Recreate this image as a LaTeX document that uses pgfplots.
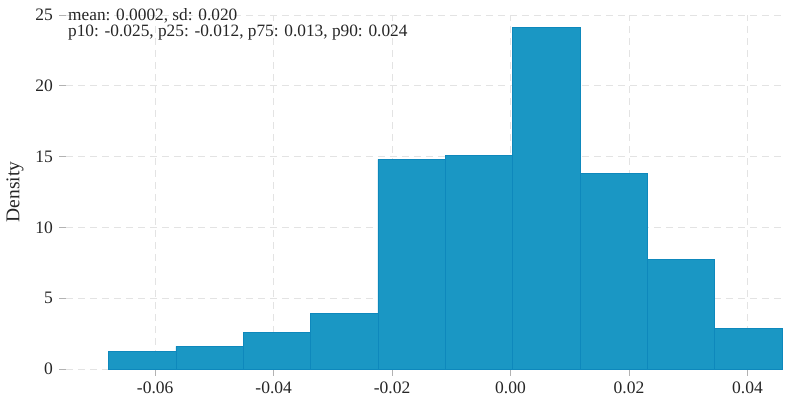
\documentclass[border=0pt]{standalone}
\usepackage{fontspec}
\setmainfont{Liberation Serif}
\usepackage{pgfplots}
\pgfplotsset{compat=1.18}
\definecolor{barfill}{RGB}{26,151,196}
\definecolor{baredge}{RGB}{14,136,188}
\begin{document}
\begin{tikzpicture}
\begin{axis}[
  at={(0pt,0pt)}, anchor=south west,
  scale only axis,
  width=717pt, height=354pt,
  xmin=-0.07506, xmax=0.0460,
  ymin=0, ymax=25,
  scaled x ticks=false,
  xtick={-0.06,-0.04,-0.02,0,0.02,0.04},
  xticklabels={-0.06,-0.04,-0.02,0.00,0.02,0.04},
  ytick={0,5,10,15,20,25},
  /pgf/number format/assume math mode=true,
  axis line style={draw=none},
  tick style={gray!60, line width=0.6pt},
  tick align=outside,
  major tick length=6.5pt,
  xtick pos=bottom, ytick pos=left,
  grid=major,
  major grid style={gray!22, dash pattern=on 7pt off 5pt, line width=0.8pt},
  ticklabel style={font=\fontsize{17.5}{19}\selectfont, text=black!85},
  yticklabel style={xshift=-3pt},
  xticklabel style={yshift=-3pt},
  ylabel={Density},
  ylabel style={font=\fontsize{19.5}{21}\selectfont, text=black!85,
    at={(axis description cs:-0.0711,0.5)}, anchor=center},
  clip=false,
]
\addplot[ybar interval, fill=barfill, draw=baredge, line width=0.6pt] coordinates {
(-0.06790,1.27) (-0.05652,1.60) (-0.04515,2.60) (-0.03377,3.90) (-0.02240,14.80)
(-0.01102,15.10) (0.00036,24.15) (0.01173,13.80) (0.02311,7.72) (0.03448,2.85) (0.04586,2.85)
};
\node[anchor=base west, inner sep=0, font=\fontsize{17.3}{18}\selectfont, text=black!85]
  at ([xshift=2pt,yshift=-6pt]rel axis cs:0,1) {mean: 0.0002, sd: 0.020};
\node[anchor=base west, inner sep=0, font=\fontsize{17.3}{18}\selectfont, text=black!85]
  at ([xshift=2pt,yshift=-21.5pt]rel axis cs:0,1) {p10: -0.025, p25: -0.012, p75: 0.013, p90: 0.024};
\end{axis}
\pgfresetboundingbox
\useasboundingbox (-66pt,-27pt) rectangle (724pt,369pt);
\end{tikzpicture}
\end{document}
